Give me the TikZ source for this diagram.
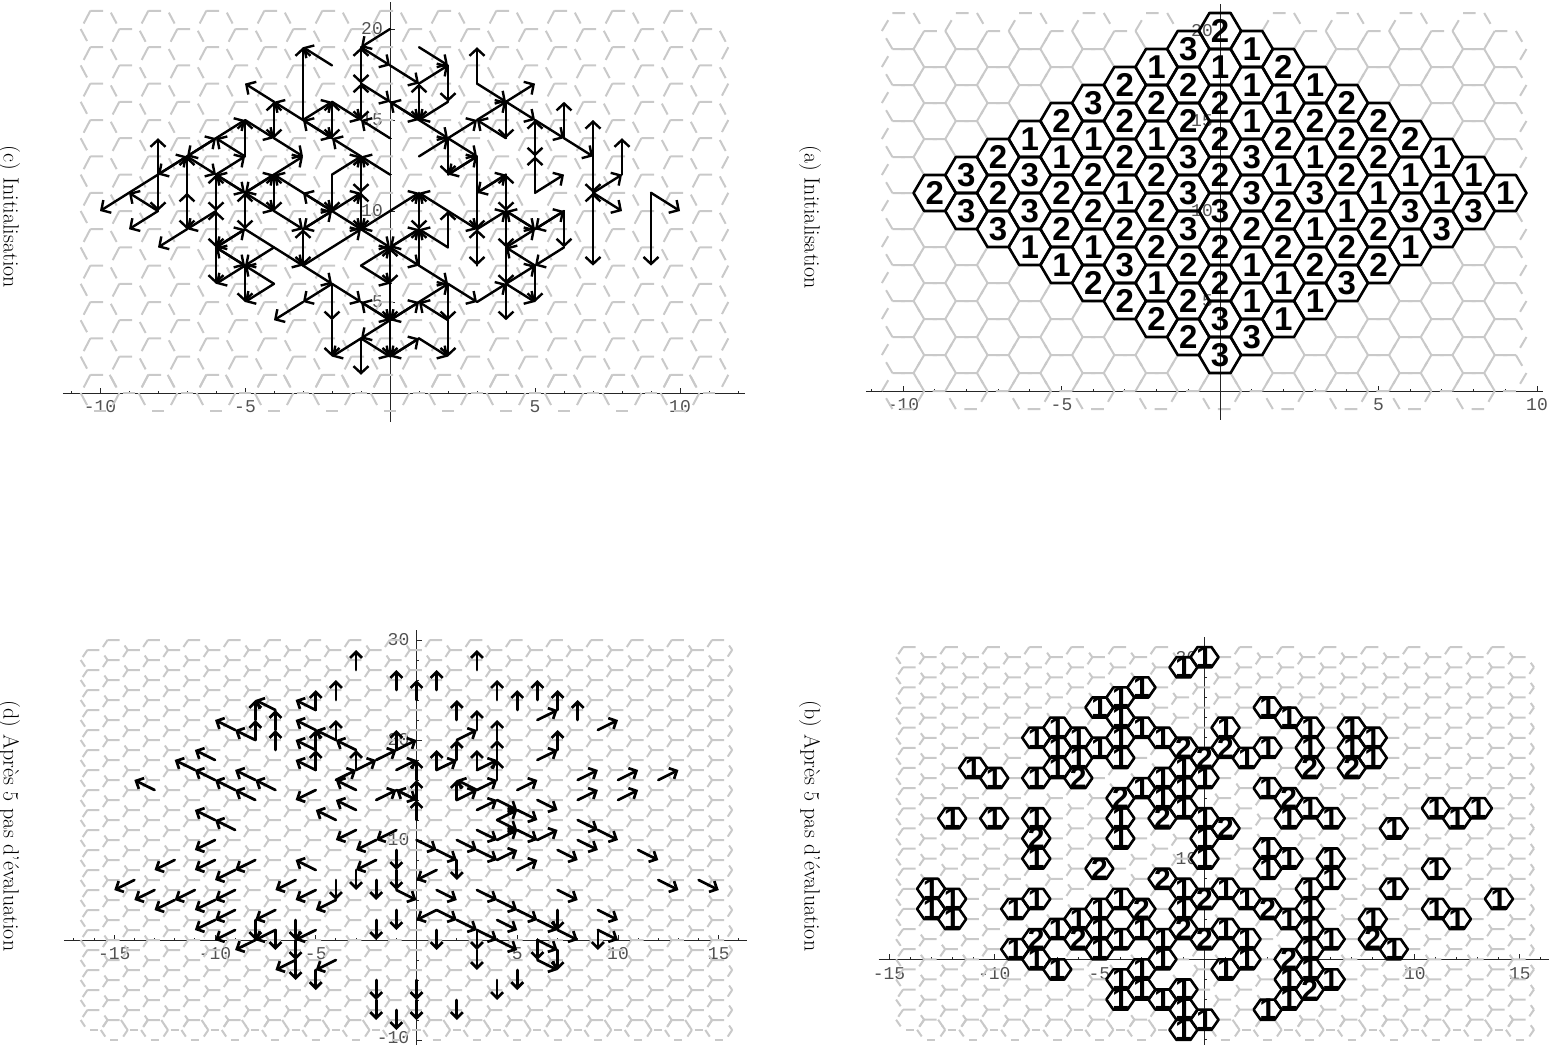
\documentclass[tikz,border=0pt]{standalone}
\usepackage{fontspec}
\usetikzlibrary{arrows.meta}
\newfontfamily\hvf{Liberation Sans}
\newfontfamily\crf{Liberation Mono}
\definecolor{latgray}{gray}{0.79}
\tikzset{
  lat/.style={draw=latgray,line width=2pt},
  axisln/.style={black!85,line width=1pt},
  ticklbl/.style={font=\crf\fontsize{18}{18}\selectfont,text=black!68,inner sep=0pt},
  digit/.style={font=\hvf\fontsize{30}{30}\selectfont\bfseries,inner sep=0pt},
  digitA/.style={font=\hvf\fontsize{33}{33}\selectfont\bfseries,inner sep=0pt},
  cellln/.style={draw=black,line width=2.6pt,line join=round},
  cellfill/.style={fill=white},
  arrc/.style={-{Straight Barb[length=7pt,width=15pt]},line width=2.4pt,line cap=round,black},
  arrd/.style={-{Straight Barb[length=6pt,width=12pt]},line width=2.7pt,line cap=round,black},
  capt/.style={font=\fontsize{22}{22}\selectfont,rotate=-90,inner sep=0pt},
}
% #1 imin #2 imax #3 first even-column j #4 first odd-column j #5 last j #6 body
\newcommand\forhex[6]{%
  \foreach \i in {#1,...,#2}{%
    \ifodd\i\relax\edef\js{#4}\else\edef\js{#3}\fi
    \pgfmathtruncatemacro\jn{\js+2}%
    \foreach \j in {\js,\jn,...,#5}{#6}%
  }%
}
\newcommand\hexpath{(\i-2/3,\j) -- (\i-1/3,\j+1) -- (\i+1/3,\j+1) -- (\i+2/3,\j) -- (\i+1/3,\j-1) -- (\i-1/3,\j-1) -- cycle}
% perimeter pieces shared by the open lattices
\newcommand\perim[2]{%
  \ifnum\j=\js\relax
    \draw[lat] (\i-.2,\j-1) -- ++(.4,0);
    \draw[lat] (\i-2/3,\j) -- ++(.22,-.66);
    \draw[lat] (\i+2/3,\j) -- ++(-.22,-.66);
  \else
    \ifnum\i=#1\relax \draw[lat] (\i-2/3,\j) -- ++(.22,-.66);\fi
    \ifnum\i=#2\relax \draw[lat] (\i+2/3,\j) -- ++(-.22,-.66);\fi
  \fi}
\newcommand\latA[5]{\forhex{#1}{#2}{#3}{#4}{#5}{%
  \draw[lat] (\i-2/3,\j) -- ++(.2,.6) (\i-1/3,\j+1) -- ++(.4,0) (\i+1/3,\j+1) -- ++(.2,-.6)
     (\i+2/3,\j) -- ++(-.2,-.6) (\i+1/3,\j-1) -- ++(-.4,0) (\i-1/3,\j-1) -- ++(-.2,.6);}}
\newcommand\latC[5]{\forhex{#1}{#2}{#3}{#4}{#5}{%
  \draw[lat] (\i-1/3,\j+1) -- ++(.44,0) (\i-1/3,\j+1) -- ++(-.23,-.7) (\i+1/3,\j+1) ++(.04,-.1) -- ++(.2,-.6);
  \perim{#1}{#2}}}
\newcommand\latD[5]{\forhex{#1}{#2}{#3}{#4}{#5}{%
  \draw[lat] (\i-1/3,\j+1) -- ++(.6,0) (\i-1/3,\j+1) -- ++(-.23,-.7) (\i+1/3,\j+1) ++(.18,-.55) -- (\i+2/3,\j);
  \perim{#1}{#2}}}
\newcommand\cellsfill[1]{\foreach \i/\j/\n in #1 {\fill[cellfill] \hexpath;}}
\newcommand\cellsline[3]{\foreach \i/\j/\n in #2 {\draw[cellln] \hexpath;}
  \foreach \i/\j/\n in #2 {\node[#3] (#1\i_\j) at (\i,\j) {\n};}}

\def\cellsA{0/20/2,-1/19/3,1/19/1,-2/18/1,0/18/1,2/18/2,-3/17/2,-1/17/2,1/17/1,3/17/1,
-4/16/3,-2/16/2,0/16/2,2/16/1,4/16/2,-5/15/2,-3/15/2,-1/15/2,1/15/1,3/15/2,5/15/2,
-6/14/1,-4/14/1,-2/14/1,0/14/2,2/14/2,4/14/2,6/14/2,-7/13/2,-5/13/1,-3/13/2,-1/13/3,1/13/3,3/13/1,5/13/2,7/13/1,
-8/12/3,-6/12/3,-4/12/2,-2/12/2,0/12/2,2/12/1,4/12/2,6/12/1,8/12/1,
-9/11/2,-7/11/2,-5/11/2,-3/11/1,-1/11/3,1/11/3,3/11/3,5/11/1,7/11/1,9/11/1,
-8/10/3,-6/10/3,-4/10/2,-2/10/2,0/10/3,2/10/2,4/10/1,6/10/3,8/10/3,
-7/9/3,-5/9/2,-3/9/2,-1/9/3,1/9/2,3/9/1,5/9/2,7/9/3,
-6/8/1,-4/8/1,-2/8/2,0/8/2,2/8/2,4/8/2,6/8/1,
-5/7/1,-3/7/3,-1/7/2,1/7/1,3/7/2,5/7/2,
-4/6/2,-2/6/1,0/6/2,2/6/1,4/6/3,
-3/5/2,-1/5/2,1/5/1,3/5/1,
-2/4/2,0/4/3,2/4/1,-1/3/2,1/3/3,0/2/3}

\def\cellsB{0/30/1,-1/29/1,-3/27/1,-4/26/1,-5/25/1,-4/24/1,-3/23/1,-2/22/1,-1/21/2,0/20/2,1/21/2,2/20/1,3/21/1,1/23/1,
3/25/1,4/24/1,5/23/1,5/21/1,5/19/2,7/23/1,8/22/1,7/21/1,8/20/1,7/19/2,-7/23/1,-8/22/1,-6/22/1,-7/21/1,-5/21/1,-4/22/1,
-6/20/1,-4/20/1,-7/19/1,-8/18/1,-6/18/2,-11/19/1,-10/18/1,-1/19/1,0/18/1,-2/18/1,-1/17/1,-3/17/1,-2/16/1,-4/16/2,-1/15/1,
0/14/1,-2/14/2,-4/14/1,1/13/2,-12/14/1,-10/14/1,-8/14/1,-8/12/2,-4/12/1,0/12/1,3/17/1,4/16/2,5/15/1,4/14/1,6/14/1,9/13/1,
11/15/1,12/14/1,13/15/1,3/11/1,4/10/1,3/9/1,6/10/1,6/8/1,5/7/1,11/9/1,9/7/1,14/6/1,11/5/1,12/4/1,8/4/1,8/2/2,9/1/1,
-8/10/1,0/10/1,-5/9/2,-2/8/2,-1/7/1,0/6/2,1/7/1,2/6/1,3/5/2,4/4/1,5/5/1,5/3/1,6/2/1,5/1/1,4/0/2,5/-1/1,6/-2/1,4/-2/1,5/-3/2,
4/-4/1,3/-5/1,1/3/1,2/2/1,0/2/2,-1/3/2,-1/5/1,2/0/1,1/-1/1,-2/2/1,-2/0/1,-3/3/1,-4/2/1,-3/-1/1,-4/-2/1,-3/-3/1,-4/-4/1,
-2/-4/1,-1/-3/1,-1/-5/1,0/-6/1,-1/-7/1,-5/5/1,-4/6/1,-3/5/2,-6/4/1,-5/3/1,-7/3/1,-8/2/2,-6/2/2,-5/1/1,-9/1/1,-8/0/1,-7/-1/1,
-9/5/1,-8/6/1,-13/7/1,-12/6/1,-13/5/1,-12/4/1}

\begin{document}
\begin{tikzpicture}[x=1pt,y=1pt]
\useasboundingbox (0,0) rectangle (1550,-1045);

\node[capt] (capc) at (9,-217) {(c) Initialisation};
\node[capt] (capa) at (810,-217) {(a) Initialisation};
\node[capt] (capd) at (9,-826) {(d) Après 5 pas d’évaluation};
\node[capt] (capb) at (810,-826) {(b) Après 5 pas d’évaluation};

%%%%%%%%%% (a)
\begin{scope}[shift={(1220,-391)},x=31.7pt,y=18pt]
  \draw[axisln] (-11.17,0) -- (10.19,0);
  \draw[axisln] (0,-1.6) -- (0,21.5);
  \foreach \t in {-11,...,10}{\draw[axisln] (\t,0) -- ++(0,2pt);}
  \foreach \t in {-10,-5,5,10}{\draw[axisln] (\t,0) -- ++(0,5pt);}
  \foreach \t in {-10,-5,5,10}{\node[ticklbl] (ax\t) at ([yshift=-14pt]\t,0) {\t};}
  \latA{-10}{9}{0}{1}{20}
  \cellsfill{\cellsA}
  \draw[axisln] (0,-1.6) -- (0,21.5);
  \foreach \t in {5,10,15,20}{\node[ticklbl,anchor=east] (ay\t) at ([xshift=-7pt]0,\t) {\t};}
  \cellsline{da}{\cellsA}{digitA}
\end{scope}

%%%%%%%%%% (b)
\begin{scope}[shift={(1204.5,-959.3)},x=21.03pt,y=10.07pt]
  \draw[axisln] (-15.5,0) -- (16.4,0);
  \draw[axisln] (0,-8.5) -- (0,32);
  \foreach \t in {-15,...,16}{\draw[axisln] (\t,0) -- ++(0,2pt);}
  \foreach \t in {-15,-10,-5,5,10,15}{\draw[axisln] (\t,0) -- ++(0,5pt);\node[ticklbl] (bx\t) at ([yshift=-14pt]\t,0) {\t};}
  \foreach \t in {-8,-6,...,30}{\draw[axisln] (0,\t) -- ++(2pt,0);}
  \foreach \t in {10,20,30}{\draw[axisln] (0,\t) -- ++(5pt,0);\node[ticklbl,anchor=east] (by\t) at ([xshift=-7pt]0,\t) {\t};}
  \latD{-14}{15}{-6}{-7}{30}
  \cellsfill{\cellsB}
  \cellsline{db}{\cellsB}{digit}
\end{scope}

%%%%%%%%%% (c)
\begin{scope}[shift={(390,-393)},x=29pt,y=18.2pt]
  \draw[axisln] (-11.28,0) -- (12.24,0);
  \draw[axisln] (0,-1.6) -- (0,21.5);
  \foreach \t in {-11,...,12}{\draw[axisln] (\t,0) -- ++(0,2pt);}
  \foreach \t in {-10,-5,5,10}{\draw[axisln] (\t,0) -- ++(0,5pt);\node[ticklbl] (cx\t) at ([yshift=-14pt]\t,0) {\t};}
  \foreach \t in {-1,...,21}{\draw[axisln] (0,\t) -- ++(2pt,0);}
  \foreach \t in {5,10,15,20}{\draw[axisln] (0,\t) -- ++(5pt,0);\node[ticklbl,anchor=east] (cy\t) at ([xshift=-7pt]0,\t) {\t};}
  \latC{-10}{11}{0}{1}{20}
  \foreach \a/\b/\c/\d in {
0/20/-1/19,-1/19/0/18,0/18/1/17,-1/17/-1/19,-1/19/-1/17,-1/15/-1/17,-1/17/-1/15,-1/17/0/16,0/14/-1/15,-2/16/-1/15,
-4/16/-5/17,-3/15/-4/16,-2/14/-3/15,-1/13/-2/14,0/12/-1/13,-4/14/-4/16,-4/16/-4/14,-5/15/-4/14,-4/14/-3/13,-4/12/-3/13,
-3/15/-3/19,-2/18/-3/19,-2/14/-2/16,-2/16/-2/14,-3/15/-2/16,-3/15/-2/14,
-8/12/-10/10,-8/10/-9/11,-8/12/-8/14,-8/12/-8/10,-7/13/-8/12,-8/12/-7/13,-7/13/-6/14,-6/14/-5/15,-6/14/-7/13,-5/13/-6/14,
-6/12/-5/13,-5/13/-5/15,-7/9/-7/11,-7/11/-7/13,-7/11/-7/9,-7/13/-6/12,-6/12/-5/11,-5/11/-4/10,-4/10/-3/9,-5/11/-6/12,
-4/12/-5/11,-5/9/-5/11,-6/12/-6/10,-6/8/-6/10,-6/10/-6/8,-6/8/-6/6,-6/10/-6/12,-5/11/-5/9,-5/11/-4/12,-3/11/-4/12,
-4/12/-4/10,-4/10/-4/12,-2/10/-3/11,-3/11/-2/10,-2/12/-1/13,-2/12/-2/10,-1/13/-1/11,-1/9/-1/11,-2/10/-1/11,-3/9/-2/10,
-2/10/-1/9,-1/11/-1/9,-1/11/-1/13,
-1/9/0/8,-1/7/0/8,-1/7/0/6,0/8/0/6,0/6/0/4,0/4/0/2,-3/7/-1/9,-5/9/-3/7,-3/7/-2/6,-2/6/-1/5,-1/5/0/4,-3/9/-3/7,-3/7/-3/9,
-2/10/-3/9,-2/6/-2/4,-2/4/-2/2,-2/6/-3/5,-3/5/-4/4,-1/3/-2/2,0/4/-1/3,-1/3/0/2,-1/3/-1/1,-5/9/-6/8,-5/7/-6/8,-4/8/-5/7,
-6/8/-5/7,-4/6/-5/5,-4/6/-5/7,-5/7/-5/5,-5/7/-6/6,-6/8/-5/9,-6/10/-7/9,-7/9/-8/8,-8/10/-9/9,0/10/-1/9,0/4/-1/5,0/6/0/8,
1/19/2/18,1/17/2/18,1/15/1/17,1/17/1/15,2/18/2/16,2/16/1/15,0/16/1/15,1/15/2/14,2/14/3/13,1/15/0/16,1/13/2/14,2/14/3/15,
3/15/4/16,4/16/5/17,4/14/3/15,4/16/4/14,3/17/3/19,3/17/4/16,4/16/5/15,5/15/6/14,6/14/7/13,5/15/5/13,5/11/5/13,5/11/6/12,
5/13/5/15,6/14/6/16,7/13/7/15,7/13/7/11,7/11/7/7,7/9/7/11,8/12/8/14,7/11/8/12,7/11/8/10,9/11/10/10,9/11/9/7,2/14/2/12,
2/12/3/13,3/13/2/12,3/13/3/9,3/9/3/7,3/7/3/9,3/11/4/12,4/12/3/11,4/10/4/12,4/12/4/10,5/9/6/10,6/10/6/8,0/10/1/11,2/10/1/11,
1/9/1/11,2/8/2/10,2/8/1/9,2/10/3/9,3/9/4/10,4/10/5/9,4/10/4/8,4/8/4/6,4/6/4/4,4/8/5/9,6/10/5/9,5/7/4/8,6/8/5/7,4/6/5/7,
5/7/5/5,4/6/5/5,3/5/4/6,2/6/3/5,0/8/1/7,1/7/2/6,1/5/2/6,0/4/1/5,2/4/1/5,2/6/2/4,2/4/2/2,1/3/2/2,0/2/1/3,1/3/0/2,1/7/1/9,
1/11/1/9,1/9/0/8,1/5/0/4,0/8/1/9,5/9/4/10}{\draw[arrc] (\a,\b) -- (\c,\d);}
\end{scope}

%%%%%%%%%% (d)
\begin{scope}[shift={(416.5,-940)},x=20.15pt,y=10pt]
  \draw[axisln] (-17.5,0) -- (16.4,0);
  \draw[axisln] (0,-10.5) -- (0,31);
  \foreach \t in {-17,...,16}{\draw[axisln] (\t,0) -- ++(0,2pt);}
  \foreach \t in {-15,-10,-5,5,10,15}{\draw[axisln] (\t,0) -- ++(0,5pt);\node[ticklbl] (dx\t) at ([yshift=-14pt]\t,0) {\t};}
  \foreach \t in {-10,-8,...,30}{\draw[axisln] (0,\t) -- ++(2pt,0);}
  \foreach \t in {10,20,30}{\draw[axisln] (0,\t) -- ++(5pt,0);\node[ticklbl,anchor=east] (dy\t) at ([xshift=-7pt]0,\t) {\t};}
  \draw[axisln] (0,-10) -- ++(5pt,0);
  \node[ticklbl,anchor=east] (dym) at ([xshift=-7pt,yshift=2pt]0,-10) {-10};
  \latD{-16}{15}{-8}{-9}{29}
  \foreach \a/\b/\c/\d in {
-3/27/-3/29,-1/25/-1/27,-4/24/-4/26,-5/23/-5/25,-5/23/-6/24,-7/23/-8/24,-7/19/-7/21,-7/21/-7/23,-8/20/-8/22,-8/22/-8/24,
-8/20/-9/21,-9/21/-10/22,-5/21/-6/22,-4/20/-5/21,-3/19/-4/20,-3/17/-3/19,-4/20/-4/22,-5/17/-5/19,-5/19/-5/21,-5/19/-6/20,
-5/17/-6/18,-10/18/-11/19,-11/17/-12/18,-10/16/-11/17,-9/15/-10/16,-8/14/-9/15,-8/16/-9/17,-7/15/-8/16,-13/15/-14/16,
-10/12/-11/13,-9/11/-10/12,-5/15/-6/14,-3/15/-4/16,-3/13/-4/14,-4/12/-5/13,-4/16/-3/17,-3/17/-2/18,-2/18/-1/19,-1/19/0/20,
-1/19/-1/21,-2/14/-1/15,0/14/-1/15,
3/27/3/29,1/25/1/27,0/24/0/26,4/24/4/26,6/24/6/26,5/23/5/25,7/23/7/25,6/22/7/23,8/22/8/24,9/21/10/22,2/22/2/24,3/21/3/23,
2/20/3/21,2/18/2/20,1/17/2/18,1/17/1/19,4/20/4/22,4/18/4/20,4/16/4/18,3/17/3/19,3/17/4/18,2/14/3/15,3/15/4/16,2/14/2/16,
3/15/2/16,7/19/7/21,6/18/7/19,5/15/6/16,8/16/9/17,10/16/11/17,12/16/13/17,8/14/9/15,10/14/11/15,3/13/4/14,6/14/7/13,
4/14/5/13,5/13/6/12,4/12/5/13,4/12/5/11,-1/17/0/18,0/16/0/18,0/14/0/16,0/12/0/14,-1/15/0/14,
-10/10/-11/9,-3/11/-4/10,-2/10/-3/9,-1/11/-2/10,-12/8/-13/7,-10/8/-11/7,-9/7/-10/6,-8/8/-9/7,-5/7/-6/8,-2/8/-3/7,-3/7/-3/5,
-1/9/-1/7,-1/7/-1/5,-1/5/0/4,1/7/0/6,0/10/1/9,1/9/2/8,2/8/2/6,-14/6/-15/5,-13/5/-14/4,-12/4/-13/3,-11/5/-12/4,-10/4/-11/3,
-9/5/-10/4,-10/2/-11/1,-9/3/-10/2,-9/1/-10/0,-8/0/-9/-1,-7/1/-8/0,-7/3/-8/2,-8/2/-8/0,-7/1/-7/-1,-6/6/-7/5,-5/5/-6/4,
-4/4/-5/3,-4/6/-4/4,-2/6/-2/4,-2/2/-2/0,-1/3/-1/1,-6/2/-6/0,-5/1/-6/0,-6/0/-6/-2,-6/-2/-6/-4,-6/-2/-7/-3,-4/-2/-5/-3,
-5/-3/-5/-5,-2/-4/-2/-6,-2/-6/-2/-8,-1/-7/-1/-9,0/-4/0/-6,0/-6/0/-8,2/-6/2/-8,1/1/1/-1,4/-4/4/-6,5/-3/5/-5,3/1/3/-1,3/-1/3/-3,
1/3/0/2,1/3/2/2,2/2/3/1,3/1/4/0,4/0/5/-1,1/5/2/4,2/10/3/9,3/9/4/8,4/8/5/9,5/7/6/8,7/9/8/8,8/10/9/9,9/11/10/10,8/12/9/11,
11/9/12/8,12/6/13/5,14/6/15/5,7/5/8/4,9/3/10/2,4/2/5/1,3/5/4/4,4/4/5/3,5/3/6/2,6/2/7/1,7/1/8/0,7/3/7/1,9/1/9/-1,9/1/10/0,
6/0/6/-2,6/0/7/-1,7/-1/7/-3,6/-2/7/-3,3/11/4/10,4/10/5/11,5/11/6/10,6/10/7/11}{\draw[arrd] (\a,\b) -- (\c,\d);}
\end{scope}
\end{tikzpicture}
\end{document}
